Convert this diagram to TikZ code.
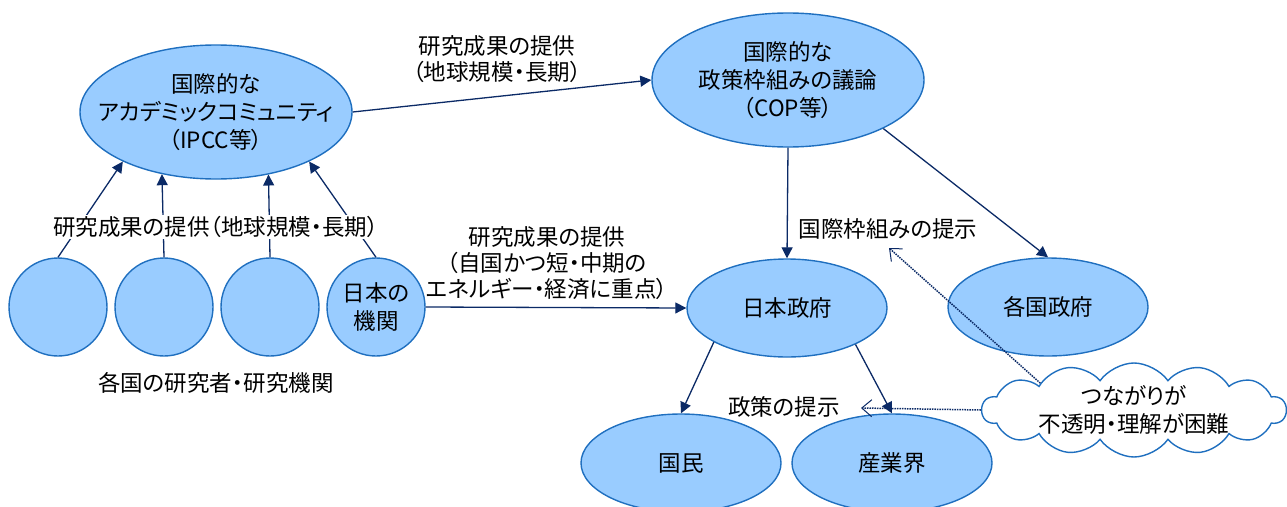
\documentclass[tikz,border=0pt]{standalone}
\usepackage{fontspec}
\newfontfamily\jp{Noto Sans CJK JP}[RawFeature=+palt]
\usetikzlibrary{shapes.geometric,shapes.symbols,arrows.meta}
\definecolor{fillblue}{HTML}{99CCFF}
\definecolor{edgeblue}{HTML}{1F6FBF}
\definecolor{navy}{HTML}{0B2A66}
\tikzset{
  ell/.style={ellipse,draw=edgeblue,fill=fillblue,line width=1.4pt,inner xsep=-60pt,inner ysep=-30pt,align=center,
    font=\jp\fontsize{22.5}{28}\selectfont},
  circ/.style={circle,draw=edgeblue,fill=fillblue,line width=1.4pt,inner sep=-20pt,minimum size=98pt,align=center,
    font=\jp\fontsize{22.5}{28}\selectfont},
  lbl/.style={align=center,inner sep=1pt,font=\jp\fontsize{22.5}{26}\selectfont},
  conn/.style={draw=navy,line width=1.3pt,-{Triangle[length=11pt,width=11pt]}},
  dotconn/.style={draw=navy,line width=1.5pt,densely dotted,-{Straight Barb[length=10pt,width=17pt,line width=1pt]}},
  cloudbox/.style={cloud,cloud puffs=14,cloud puff arc=110,aspect=3.6,draw=edgeblue,fill=white,line width=1.4pt,
    minimum width=304pt,minimum height=94pt,inner sep=-20pt,align=center,font=\jp\fontsize{22.5}{28}\selectfont}
}
\begin{document}
\begin{tikzpicture}[x=1pt,y=-1pt]
\useasboundingbox (0,0) rectangle (1287,506);
% ellipses
\node[ell,minimum width=272pt,minimum height=134pt] (A) at (216,112) {国際的な\\アカデミックコミュニティ\\（IPCC等）};
\node[ell,minimum width=272pt,minimum height=134pt] (B) at (788,80) {国際的な\\政策枠組みの議論\\（COP等）};
\node[ell,minimum width=200pt,minimum height=98pt] (J) at (787,308) {日本政府};
\node[ell,minimum width=200pt,minimum height=98pt] (K) at (1048,307) {各国政府};
\node[ell,minimum width=200pt,minimum height=98pt] (N) at (681,463) {国民};
\node[ell,minimum width=200pt,minimum height=98pt] (I) at (892,463) {産業界};
% circles
\node[circ] (c1) at (58,307) {};
\node[circ] (c2) at (164,307) {};
\node[circ] (c3) at (270,307) {};
\node[circ] (c4) at (376,307) {日本の\\機関};
% connectors
\draw[conn] (c1.north) -- (A.208);
\draw[conn] (c2.north) -- (A.229.5);
\draw[conn] (c3.north) -- (A.310.5);
\draw[conn] (c4.north) -- (A.332);
\draw[conn] (A.east) -- (B.west);
\draw[conn] (c4.east) -- (J.west);
\draw[conn] (B.south) -- (J.north);
\draw[conn] (B.333) -- (K.north);
\draw[conn] (J.205) -- (N.north);
\draw[conn] (J.332) -- (I.north);
% labels
\node[lbl,fill=white] (l1) at (216,227) {研究成果の提供（地球規模・長期）};
\node[lbl] (l2) at (216,383) {各国の研究者・研究機関};
\node[lbl] (l3) at (497,59) {研究成果の提供\\（地球規模・長期）};
\node[lbl] (l4) at (547,263) {研究成果の提供\\（自国かつ短・中期の\\エネルギー・経済に重点）};
\node[lbl] (l5) at (888,229) {国際枠組みの提示};
\node[lbl] (l6) at (784,407) {政策の提示};
% cloud
\node[cloudbox] (C) at (1134,410) {つながりが\\不透明・理解が困難};
\coordinate (t1) at (889,248);
\coordinate (t2) at (861,408);
\draw[dotconn] (C.164) -- (t1);
\draw[dotconn] (C.west) -- (t2);
\end{tikzpicture}
\end{document}
